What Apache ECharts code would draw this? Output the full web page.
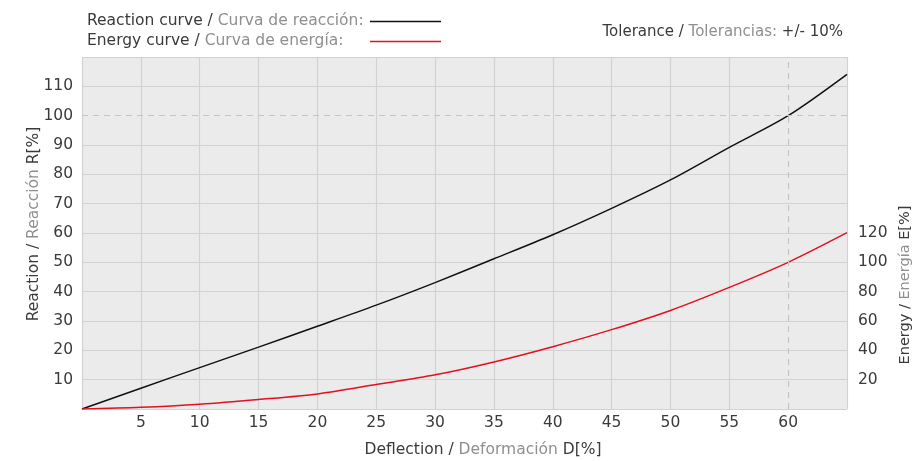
<!DOCTYPE html>
<html>
<head>
<meta charset="utf-8">
<script src="https://cdn.jsdelivr.net/npm/echarts@6/dist/echarts.min.js"></script>
<style>
  html, body { margin: 0; padding: 0; background: #fff; }
  #chart { width: 919px; height: 461px; }
</style>
</head>
<body>
<div id="chart"></div>
<script>
// Deflection D[%]
const deflection = [0, 5, 10, 15, 20, 25, 30, 35, 40, 45, 50, 55, 60, 65];
// Reaction R[%] (left axis)
const reaction = [0, 7.1, 14.1, 21.1, 28.2, 35.4, 43.1, 51.2, 59.4, 68.4, 78.1, 89.2, 100, 114.1];
// Energy E[%] (right axis)
const energy = [0, 1.2, 3.3, 6.5, 10.3, 16.7, 23.3, 32.1, 42.5, 54.1, 67.2, 82.9, 100, 120.2];

const xTicks = [5, 10, 15, 20, 25, 30, 35, 40, 45, 50, 55, 60];
const reactionTicks = [10, 20, 30, 40, 50, 60, 70, 80, 90, 100, 110];
const energyTicks = [20, 40, 60, 80, 100, 120];

const FONT = 'DejaVu Sans';
const FS = 15.5;
const DARK = '#3a3a3a';
const GREY = '#8f8f8f';
const GRID = '#d2d2d2';
const NOMINAL_GRID = '#c4c4c4';

const richText = (fillKey, size) => ({
  a: { [fillKey]: DARK, fontSize: size || FS, fontFamily: FONT },
  b: { [fillKey]: GREY, fontSize: size || FS, fontFamily: FONT }
});

// Solid split lines everywhere except the nominal value lines, which are drawn dashed
const ySplitColors = [];
for (let v = 0; v <= 120; v += 10) ySplitColors.push(v === 100 ? 'transparent' : GRID);
const xSplitColors = [];
for (let v = 0; v <= 65; v += 5) xSplitColors.push(v === 60 ? 'transparent' : GRID);

const chart = echarts.init(document.getElementById('chart'));

chart.setOption({
  backgroundColor: '#ffffff',
  animation: false,
  textStyle: { fontFamily: FONT },
  grid: {
    left: 82, right: 72, top: 57, bottom: 52,
    outerBoundsMode: 'none', containLabel: false,
    show: true, backgroundColor: '#ebebeb', borderWidth: 0
  },
  xAxis: {
    type: 'value', min: 0, max: 65, interval: 5,
    axisLine: { show: false }, axisTick: { show: false },
    axisLabel: {
      color: DARK, fontSize: FS, margin: 6, fontFamily: FONT,
      formatter: v => xTicks.includes(v) ? String(v) : ''
    },
    splitLine: { show: true, lineStyle: { color: xSplitColors, width: 1.2 } },
    name: '{a|Deflection / }{b|Deformación }{a|D[%]}',
    nameLocation: 'middle', nameGap: 33,
    nameTextStyle: { padding: [0, 0, 0, 37], rich: richText('color') }
  },
  yAxis: [
    {
      type: 'value', min: 0, max: 120, interval: 10,
      axisLine: { show: false }, axisTick: { show: false },
      axisLabel: {
        color: DARK, fontSize: FS, margin: 9, fontFamily: FONT,
        formatter: v => reactionTicks.includes(v) ? String(v) : ''
      },
      splitLine: { show: true, lineStyle: { color: ySplitColors, width: 1.2 } },
      name: '{a|Reaction / }{b|Reacción }{a|R[%]}',
      nameLocation: 'middle', nameGap: 40, nameMoveOverlap: false,
      nameTextStyle: { padding: [0, 0, 0, 18], rich: richText('color') }
    },
    {
      type: 'value', min: 0, max: 240, interval: 20, position: 'right',
      axisLine: { show: false }, axisTick: { show: false },
      splitLine: { show: false },
      axisLabel: {
        color: DARK, fontSize: FS, margin: 11, fontFamily: FONT,
        formatter: v => energyTicks.includes(v) ? String(v) : ''
      }
    }
  ],
  series: [
    {
      name: 'Reaction', type: 'line', yAxisIndex: 0, smooth: 0.3, symbol: 'none',
      lineStyle: { color: '#111111', width: 1.5 },
      data: deflection.map((d, i) => [d, reaction[i]]),
      markLine: {
        silent: true, symbol: 'none', label: { show: false },
        lineStyle: { color: NOMINAL_GRID, type: [6, 5], width: 1.2 },
        data: [{ yAxis: 100 }, { xAxis: 60 }]
      },
      z: 3
    },
    {
      name: 'Energy', type: 'line', yAxisIndex: 1, smooth: 0.3, symbol: 'none',
      lineStyle: { color: '#e3101f', width: 1.5 },
      data: deflection.map((d, i) => [d, energy[i]]),
      z: 3
    }
  ],
  graphic: [
    {
      type: 'text', left: 87, top: 13,
      style: { text: '{a|Reaction curve / }{b|Curva de reacción:}', rich: richText('fill') }
    },
    {
      type: 'text', left: 87, top: 33,
      style: { text: '{a|Energy curve / }{b|Curva de energía:}', rich: richText('fill') }
    },
    { type: 'line', shape: { x1: 370, y1: 21.5, x2: 441, y2: 21.5 }, style: { stroke: '#111111', lineWidth: 1.5 } },
    { type: 'line', shape: { x1: 370, y1: 41.5, x2: 441, y2: 41.5 }, style: { stroke: '#e3101f', lineWidth: 1.5 } },
    {
      type: 'text', right: 76, top: 25,
      style: { text: '{a|Tolerance / }{b|Tolerancias: }{a|+/- 10%}', rich: richText('fill', 15) }
    },
    {
      type: 'text', x: 905, y: 285, rotation: Math.PI / 2,
      style: {
        text: '{a|Energy / }{b|Energía }{a|E[%]}',
        align: 'center', verticalAlign: 'middle',
        rich: richText('fill', 14.5)
      }
    }
  ]
});
</script>
</body>
</html>
